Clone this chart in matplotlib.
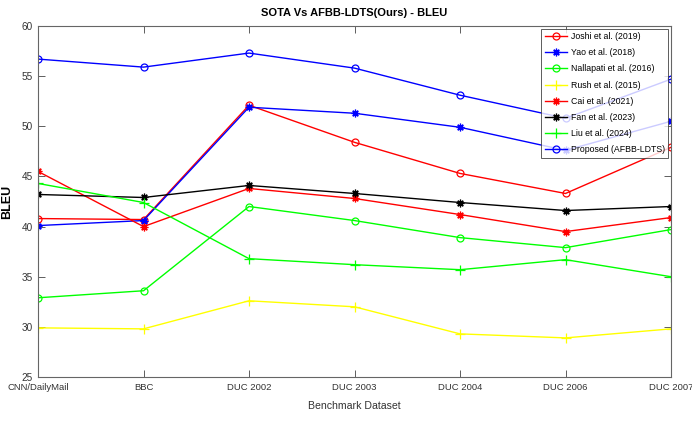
import matplotlib
matplotlib.use('Agg')
import matplotlib.pyplot as plt

datasets = ['CNN/DailyMail', 'BBC', 'DUC 2002', 'DUC 2003', 'DUC 2004', 'DUC 2006', 'DUC 2007']

joshi = [40.8, 40.7, 52.1, 48.4, 45.3, 43.3, 47.9]
yao = [40.1, 40.6, 51.9, 51.3, 49.9, 47.6, 50.5]
nallapati = [32.9, 33.6, 42.0, 40.6, 38.9, 37.9, 39.7]
rush = [29.9, 29.8, 32.6, 32.0, 29.3, 28.9, 29.8]
cai = [45.5, 40.0, 43.8, 42.8, 41.2, 39.5, 40.9]
fan = [43.2, 42.9, 44.1, 43.3, 42.4, 41.6, 42.0]
liu = [44.3, 42.4, 36.8, 36.2, 35.7, 36.7, 35.0]
proposed = [56.7, 55.9, 57.3, 55.8, 53.1, 50.8, 54.7]

series = [
    ('Joshi et al. (2019)', joshi, 'r', 'o'),
    ('Yao et al. (2018)', yao, 'b', '*'),
    ('Nallapati et al. (2016)', nallapati, '#00ff00', 'o'),
    ('Rush et al. (2015)', rush, '#ffff00', '+'),
    ('Cai et al. (2021)', cai, 'r', '*'),
    ('Fan et al. (2023)', fan, 'k', '*'),
    ('Liu et al. (2024)', liu, '#00ff00', '+'),
    ('Proposed (AFBB-LDTS)', proposed, 'b', 'o'),
]

plt.rcParams['font.family'] = ['Liberation Sans', 'DejaVu Sans']

fig = plt.figure(figsize=(6.92, 4.21), dpi=100)
ax = fig.add_axes([38/692, 1-377/421, (671-38)/692, (377-26)/421])

x = range(len(datasets))
for label, vals, col, mk in series:
    if mk == 'o':
        kw = dict(marker='o', markersize=5, markerfacecolor='none')
    elif mk == '*':
        kw = dict(marker=(8, 2, 0), markersize=5.5)
    else:
        kw = dict(marker='+', markersize=7)
    ax.plot(x, vals, color=col, markeredgewidth=0.9, linewidth=1.0, label=label, **kw)

ax.set_xlim(0, len(datasets)-1)
ax.set_ylim(25, 60)
ax.set_xticks(list(x))
ax.set_xticklabels(datasets, fontsize=6.8)
ax.set_yticks(range(25, 61, 5))
ax.tick_params(axis='y', labelsize=7.2)
ax.tick_params(direction='in', top=True, right=True, length=5, width=0.6, colors='#444444', labelcolor='#333333')
ax.tick_params(axis='x', pad=4)
for s in ax.spines.values():
    s.set_color('#666666')
    s.set_linewidth(0.8)

ax.set_title('SOTA Vs AFBB-LDTS(Ours) - BLEU', fontsize=8, fontweight='bold', pad=7)
ax.set_ylabel('BLEU', fontsize=9, fontweight='bold', labelpad=6)
ax.set_xlabel('Benchmark Dataset', fontsize=7.6, labelpad=7, color='#333333')

leg = ax.legend(loc='upper right', fontsize=6.3, frameon=True, fancybox=False,
                edgecolor='#333333', borderaxespad=0.3, handlelength=2.6,
                labelspacing=0.82, borderpad=0.4, handletextpad=0.4)
leg.get_frame().set_linewidth(0.7)

fig.savefig('out.png', dpi=100)
